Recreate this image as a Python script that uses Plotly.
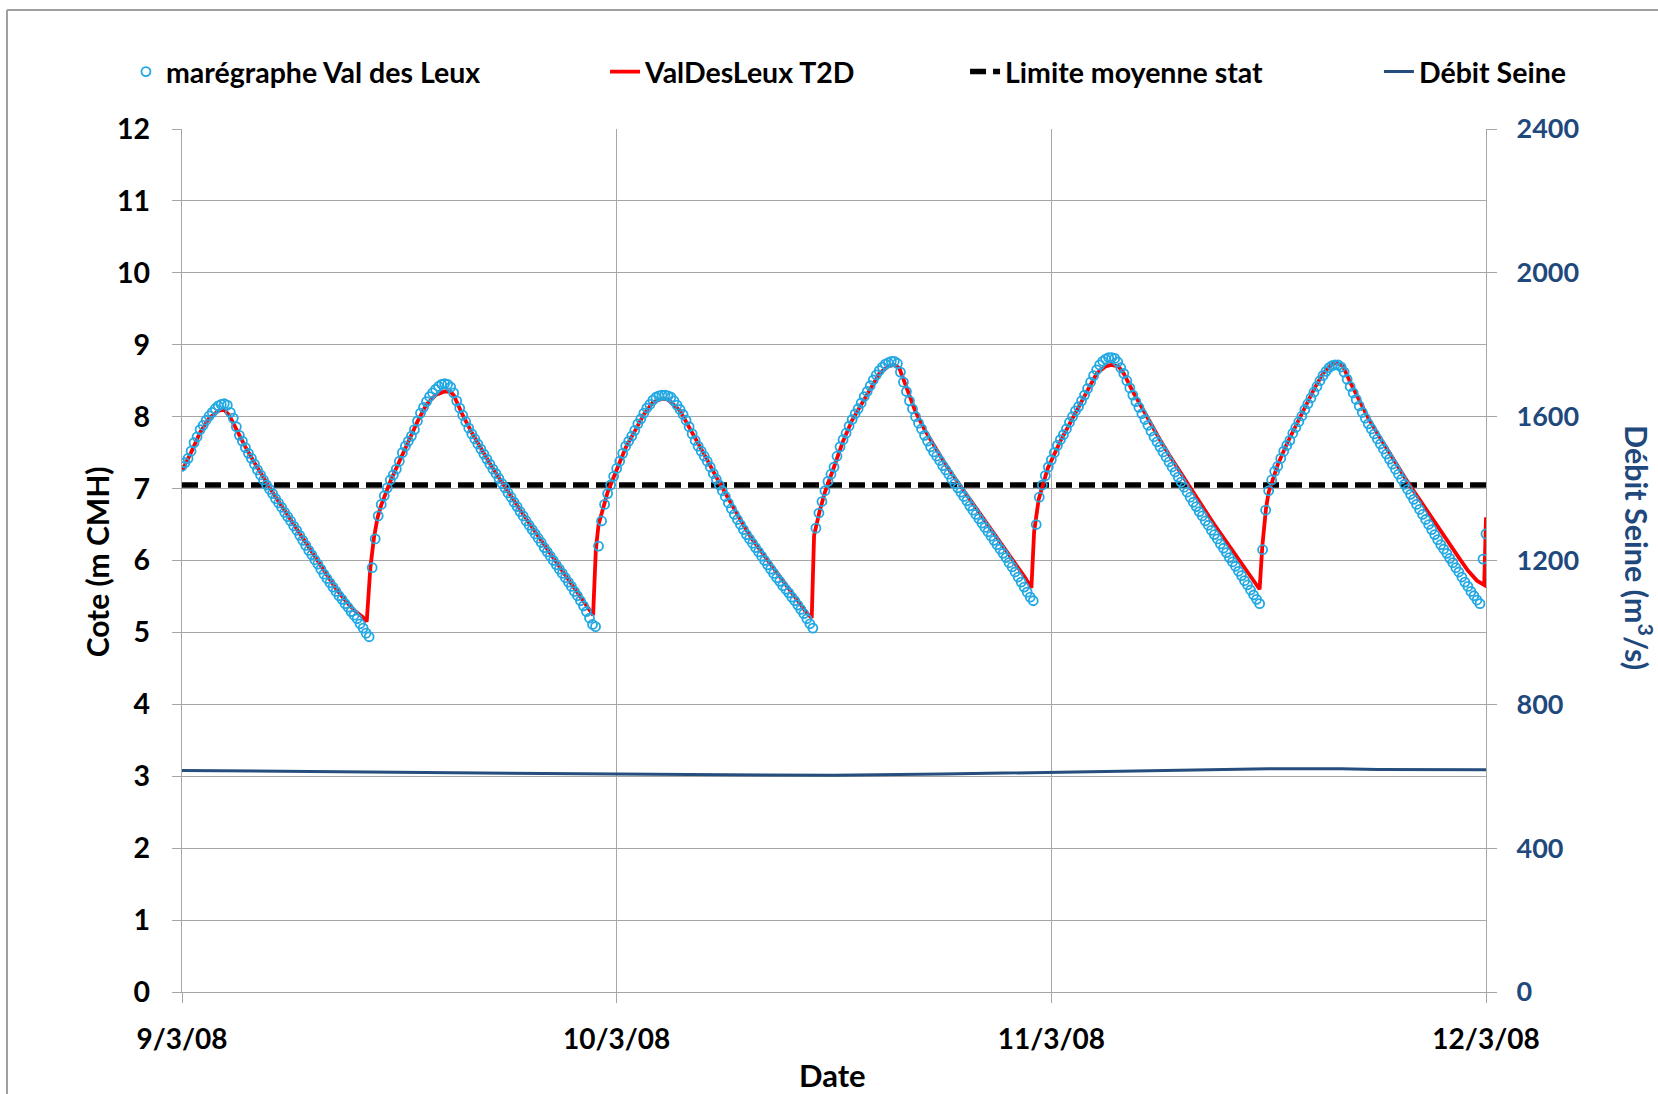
import pandas as pd
import plotly.graph_objects as go

# ---------------------------------------------------------------------------
# Data — Val des Leux, 9 to 12 March 2008
# ---------------------------------------------------------------------------
START = pd.Timestamp("2008-03-09 00:00")
END = pd.Timestamp("2008-03-12 00:00")

# Tide gauge readings (m CMH), one value every 10 minutes, in 12-hour blocks
maregraphe_0_12h = [
    7.31, 7.36, 7.42, 7.52, 7.64, 7.72,
    7.82, 7.88, 7.95, 8.01, 8.06, 8.11,
    8.15, 8.17, 8.18, 8.16, 8.06, 7.98,
    7.86, 7.74, 7.66, 7.57, 7.49, 7.42,
    7.34, 7.26, 7.19, 7.12, 7.05, 6.99,
    6.93, 6.86, 6.80, 6.74, 6.67, 6.61,
    6.55, 6.48, 6.42, 6.35, 6.28, 6.21,
    6.14, 6.08, 6.01, 5.95, 5.88, 5.81,
    5.75, 5.69, 5.63, 5.57, 5.51, 5.46,
    5.40, 5.35, 5.29, 5.24, 5.19, 5.12,
    5.06, 4.99, 4.94, 5.90, 6.30, 6.62,
    6.78, 6.90, 7.01, 7.12, 7.19, 7.27,
]
maregraphe_12_24h = [
    7.38, 7.50, 7.59, 7.66, 7.73, 7.82,
    7.94, 8.05, 8.13, 8.21, 8.28, 8.33,
    8.38, 8.42, 8.45, 8.46, 8.45, 8.41,
    8.33, 8.22, 8.12, 8.02, 7.93, 7.84,
    7.76, 7.69, 7.62, 7.55, 7.48, 7.41,
    7.34, 7.27, 7.21, 7.14, 7.07, 7.01,
    6.94, 6.88, 6.81, 6.75, 6.68, 6.62,
    6.55, 6.49, 6.43, 6.37, 6.31, 6.25,
    6.18, 6.12, 6.06, 6.00, 5.94, 5.88,
    5.82, 5.76, 5.70, 5.64, 5.57, 5.51,
    5.44, 5.37, 5.29, 5.20, 5.11, 5.08,
    6.20, 6.55, 6.78, 6.93, 7.05, 7.17,
]
maregraphe_24_36h = [
    7.28, 7.38, 7.49, 7.59, 7.66, 7.73,
    7.81, 7.90, 7.97, 8.05, 8.12, 8.17,
    8.23, 8.27, 8.29, 8.30, 8.30, 8.29,
    8.27, 8.22, 8.16, 8.10, 8.03, 7.95,
    7.86, 7.76, 7.67, 7.59, 7.52, 7.45,
    7.38, 7.30, 7.21, 7.13, 7.05, 6.97,
    6.89, 6.80, 6.72, 6.64, 6.57, 6.50,
    6.43, 6.36, 6.30, 6.24, 6.18, 6.12,
    6.06, 6.00, 5.94, 5.88, 5.82, 5.76,
    5.71, 5.65, 5.60, 5.55, 5.49, 5.44,
    5.38, 5.32, 5.26, 5.19, 5.12, 5.06,
    6.45, 6.66, 6.82, 6.97, 7.10, 7.20,
]
maregraphe_36_48h = [
    7.30, 7.45, 7.58, 7.68, 7.77, 7.87,
    7.96, 8.04, 8.11, 8.19, 8.28, 8.35,
    8.43, 8.51, 8.58, 8.64, 8.69, 8.73,
    8.75, 8.77, 8.77, 8.74, 8.62, 8.48,
    8.35, 8.22, 8.11, 8.00, 7.91, 7.83,
    7.74, 7.66, 7.58, 7.51, 7.45, 7.39,
    7.32, 7.26, 7.20, 7.13, 7.07, 7.01,
    6.95, 6.89, 6.83, 6.76, 6.70, 6.64,
    6.58, 6.52, 6.46, 6.40, 6.34, 6.28,
    6.22, 6.16, 6.10, 6.04, 5.97, 5.91,
    5.84, 5.77, 5.70, 5.63, 5.56, 5.49,
    5.44, 6.50, 6.88, 7.05, 7.18, 7.30,
]
maregraphe_48_60h = [
    7.40, 7.50, 7.60, 7.68, 7.75, 7.83,
    7.92, 8.00, 8.08, 8.14, 8.22, 8.30,
    8.39, 8.48, 8.57, 8.65, 8.72, 8.77,
    8.80, 8.82, 8.82, 8.81, 8.76, 8.68,
    8.60, 8.50, 8.40, 8.30, 8.21, 8.13,
    8.04, 7.96, 7.88, 7.80, 7.72, 7.65,
    7.58, 7.51, 7.44, 7.37, 7.30, 7.23,
    7.16, 7.09, 7.02, 6.95, 6.88, 6.81,
    6.75, 6.68, 6.62, 6.55, 6.49, 6.42,
    6.36, 6.30, 6.23, 6.17, 6.11, 6.04,
    5.98, 5.92, 5.85, 5.79, 5.72, 5.66,
    5.59, 5.52, 5.46, 5.40, 6.15, 6.70,
]
maregraphe_60_72h = [
    6.97, 7.12, 7.24, 7.31, 7.42, 7.52,
    7.60, 7.67, 7.77, 7.85, 7.93, 8.01,
    8.10, 8.18, 8.26, 8.34, 8.42, 8.50,
    8.57, 8.63, 8.68, 8.71, 8.72, 8.72,
    8.69, 8.62, 8.52, 8.42, 8.33, 8.24,
    8.15, 8.06, 7.98, 7.90, 7.83, 7.76,
    7.69, 7.62, 7.55, 7.48, 7.41, 7.34,
    7.27, 7.20, 7.13, 7.06, 6.99, 6.92,
    6.85, 6.78, 6.71, 6.64, 6.57, 6.50,
    6.43, 6.36, 6.29, 6.22, 6.16, 6.10,
    6.03, 5.97, 5.90, 5.84, 5.77, 5.70,
    5.64, 5.57, 5.51, 5.45, 5.40, 6.02,
    6.37,
]

# TELEMAC-2D model output (hours since 9/3/08 00:00, water level m CMH)
t2d_hours = [
    0.0, 0.5, 1.0, 1.5, 2.0, 2.3, 2.6, 3.0, 3.5, 4.0, 4.5, 5.0, 5.5, 6.0,
    6.5, 7.0, 7.5, 8.0, 8.5, 9.0, 9.5, 10.0, 10.2, 10.4, 10.6, 10.8, 11.0,
    11.5, 12.0, 12.5, 13.0, 13.5, 14.0, 14.5, 14.8, 15.0, 15.5, 16.0, 16.5,
    17.0, 17.5, 18.0, 18.5, 19.0, 19.5, 20.0, 20.5, 21.0, 21.5, 22.0, 22.5,
    22.7, 22.85, 23.0, 23.5, 24.0, 24.5, 25.0, 25.5, 26.0, 26.5, 26.8, 27.0,
    27.5, 28.0, 28.5, 29.0, 29.5, 30.0, 30.5, 31.0, 31.5, 32.0, 32.5, 33.0,
    33.5, 34.0, 34.5, 34.77, 34.9, 35.2, 35.5, 36.0, 36.5, 37.0, 37.5, 38.0,
    38.5, 39.0, 39.3, 39.6, 40.0, 40.5, 41.0, 41.5, 42.0, 42.5, 43.0, 43.5,
    44.0, 44.5, 45.0, 45.5, 46.0, 46.5, 46.9, 47.05, 47.3, 47.8, 48.5, 49.0,
    49.5, 50.0, 50.5, 51.0, 51.3, 51.7, 52.0, 52.5, 53.0, 53.5, 54.0, 54.5,
    55.0, 55.5, 56.0, 56.5, 57.0, 57.5, 58.0, 58.5, 59.0, 59.5, 59.65, 59.85,
    60.0, 60.5, 61.0, 61.5, 62.0, 62.5, 63.0, 63.5, 63.8, 64.1, 64.5, 65.0,
    65.5, 66.0, 66.5, 67.0, 67.5, 68.0, 68.5, 69.0, 69.5, 70.0, 70.5, 71.0,
    71.5, 71.9, 72.0,
]
t2d_values = [
    7.25, 7.50, 7.78, 7.98, 8.08, 8.10, 8.02, 7.82, 7.58, 7.36, 7.15, 6.95,
    6.76, 6.57, 6.38, 6.18, 5.98, 5.79, 5.61, 5.45, 5.31, 5.21, 5.15, 5.90,
    6.32, 6.60, 6.77, 7.10, 7.38, 7.65, 7.93, 8.17, 8.30, 8.35, 8.35, 8.30,
    8.02, 7.78, 7.56, 7.35, 7.15, 6.95, 6.77, 6.58, 6.40, 6.22, 6.04, 5.87,
    5.69, 5.50, 5.32, 5.24, 6.15, 6.50, 6.95, 7.27, 7.57, 7.80, 8.03, 8.20,
    8.25, 8.24, 8.20, 8.08, 7.86, 7.62, 7.40, 7.16, 6.93, 6.70, 6.49, 6.29,
    6.12, 5.94, 5.77, 5.60, 5.43, 5.27, 5.20, 6.35, 6.68, 6.95, 7.30, 7.66,
    7.95, 8.17, 8.40, 8.60, 8.70, 8.72, 8.68, 8.40, 8.07, 7.82, 7.60, 7.40,
    7.21, 7.03, 6.85, 6.67, 6.49, 6.32, 6.14, 5.97, 5.78, 5.62, 6.40, 6.85,
    7.28, 7.66, 7.90, 8.14, 8.38, 8.60, 8.70, 8.72, 8.70, 8.60, 8.35, 8.12,
    7.90, 7.68, 7.47, 7.27, 7.07, 6.88, 6.69, 6.50, 6.32, 6.15, 5.98, 5.80,
    5.60, 6.20, 6.72, 6.95, 7.33, 7.62, 7.87, 8.12, 8.38, 8.60, 8.73, 8.75,
    8.70, 8.48, 8.22, 7.98, 7.77, 7.56, 7.36, 7.16, 6.97, 6.78, 6.59, 6.40,
    6.22, 6.04, 5.86, 5.72, 5.66, 6.60,
]

# Mean statistical limit (m CMH)
limite_dates = ["2008-03-09", "2008-03-12"]
limite_values = [7.05, 7.05]

# Seine discharge (m3/s)
debit_hours = [0, 6, 12, 18, 24, 30, 36, 42, 48, 52, 56, 60, 64, 66, 72]
debit_values = [616, 613, 610, 608, 606, 604, 603, 606, 611, 615, 619, 621, 621, 619, 618]

# Axis ticks
x_tick_dates = ["2008-03-09", "2008-03-10", "2008-03-11", "2008-03-12"]
y_left_ticks = list(range(0, 13))
y_right_ticks = [0, 400, 800, 1200, 1600, 2000, 2400]

# ---------------------------------------------------------------------------
# Build time axes
# ---------------------------------------------------------------------------
maregraphe_values = (maregraphe_0_12h + maregraphe_12_24h + maregraphe_24_36h
                     + maregraphe_36_48h + maregraphe_48_60h + maregraphe_60_72h)
maregraphe_times = pd.date_range(START, periods=len(maregraphe_values), freq="10min")
t2d_times = [START + pd.Timedelta(hours=h) for h in t2d_hours]
debit_times = [START + pd.Timedelta(hours=h) for h in debit_hours]

FONT = "Lato"
GRID = "#A6A6A6"
NAVY = "#1F497D"

fig = go.Figure()

fig.add_trace(go.Scatter(
    x=pd.to_datetime(limite_dates), y=limite_values, mode="lines",
    name="Limite moyenne stat", legend="legend3",
    line=dict(color="black", width=5.5, dash="16px,7px"),
))
fig.add_trace(go.Scatter(
    x=t2d_times, y=t2d_values, mode="lines",
    name="ValDesLeux T2D", legend="legend2",
    line=dict(color="#FF0000", width=3.8),
))
fig.add_trace(go.Scatter(
    x=maregraphe_times, y=maregraphe_values, mode="markers",
    name="marégraphe Val des Leux", legend="legend",
    marker=dict(symbol="circle-open", size=9, color="#22A8E3",
                line=dict(width=1.8, color="#22A8E3")),
))
fig.add_trace(go.Scatter(
    x=debit_times, y=debit_values, mode="lines",
    name="Débit Seine", legend="legend4", yaxis="y2",
    line=dict(color="#254E7E", width=3),
))

legend_font = dict(family=FONT, size=28.5, color="black", weight="bold")
legend_common = dict(font=legend_font, bgcolor="rgba(0,0,0,0)", borderwidth=0,
                     yanchor="middle", y=1.066, xanchor="left")

fig.update_layout(
    width=1658, height=1094, autosize=False,
    margin=dict(l=182, r=172, t=129, b=102, pad=0),
    paper_bgcolor="white", plot_bgcolor="white",
    showlegend=True,
    legend=dict(x=-0.043, **legend_common),
    legend2=dict(x=0.3244, **legend_common),
    legend3=dict(x=0.6005, **legend_common),
    legend4=dict(x=0.9179, **legend_common),
    xaxis=dict(
        type="date", range=[START, END],
        tickmode="array", tickvals=pd.to_datetime(x_tick_dates),
        tickformat="%-d/%-m/%y",
        showgrid=True, gridcolor=GRID, gridwidth=1.3,
        showline=True, linecolor=GRID, linewidth=1.3,
        ticks="outside", ticklen=10, tickcolor=GRID, tickwidth=1.3,
        ticklabelstandoff=12,
        tickfont=dict(family=FONT, size=28, color="black", weight="bold"),
        zeroline=False,
    ),
    yaxis=dict(
        range=[0, 12], tickmode="array", tickvals=y_left_ticks,
        showgrid=True, gridcolor=GRID, gridwidth=1.3,
        showline=True, linecolor=GRID, linewidth=1.3,
        ticks="outside", ticklen=9, tickcolor=GRID, tickwidth=1.3,
        ticklabelstandoff=16,
        tickfont=dict(family=FONT, size=28.5, color="black", weight="bold"),
        zeroline=False,
    ),
    yaxis2=dict(
        range=[0, 2400], overlaying="y", side="right",
        tickmode="array", tickvals=y_right_ticks,
        showgrid=False, showline=True, linecolor=GRID, linewidth=1.3,
        ticks="outside", ticklen=10, tickcolor=GRID, tickwidth=1.3,
        ticklabelstandoff=14,
        tickfont=dict(family=FONT, size=27, color=NAVY, weight="bold"),
        zeroline=False,
    ),
    annotations=[
        dict(text="Date", xref="paper", yref="paper", x=0.4992, y=-0.0962,
             showarrow=False, xanchor="center", yanchor="middle",
             font=dict(family=FONT, size=31, color="black", weight="bold")),
        dict(text="Cote (m CMH)", xref="paper", yref="paper", x=-0.0652, y=0.499,
             showarrow=False, xanchor="center", yanchor="middle", textangle=-90,
             font=dict(family=FONT, size=30, color="black", weight="bold")),
        dict(text="Débit Seine (m<sup>3</sup>/s)", xref="paper", yref="paper",
             x=1.1173, y=0.5145, showarrow=False, xanchor="center",
             yanchor="middle", textangle=90,
             font=dict(family=FONT, size=30.5, color=NAVY, weight="bold")),
    ],
    shapes=[
        # chart-area frame (top and left edges)
        dict(type="line", xref="paper", yref="paper", x0=-0.1342, x1=1.14,
             y0=1.1379, y1=1.1379, line=dict(color="#A0A0A0", width=2)),
        dict(type="line", xref="paper", yref="paper", x0=-0.1342, x1=-0.1342,
             y0=1.1379, y1=-0.13, line=dict(color="#A0A0A0", width=2)),
    ],
)

fig.write_html("out.html")
